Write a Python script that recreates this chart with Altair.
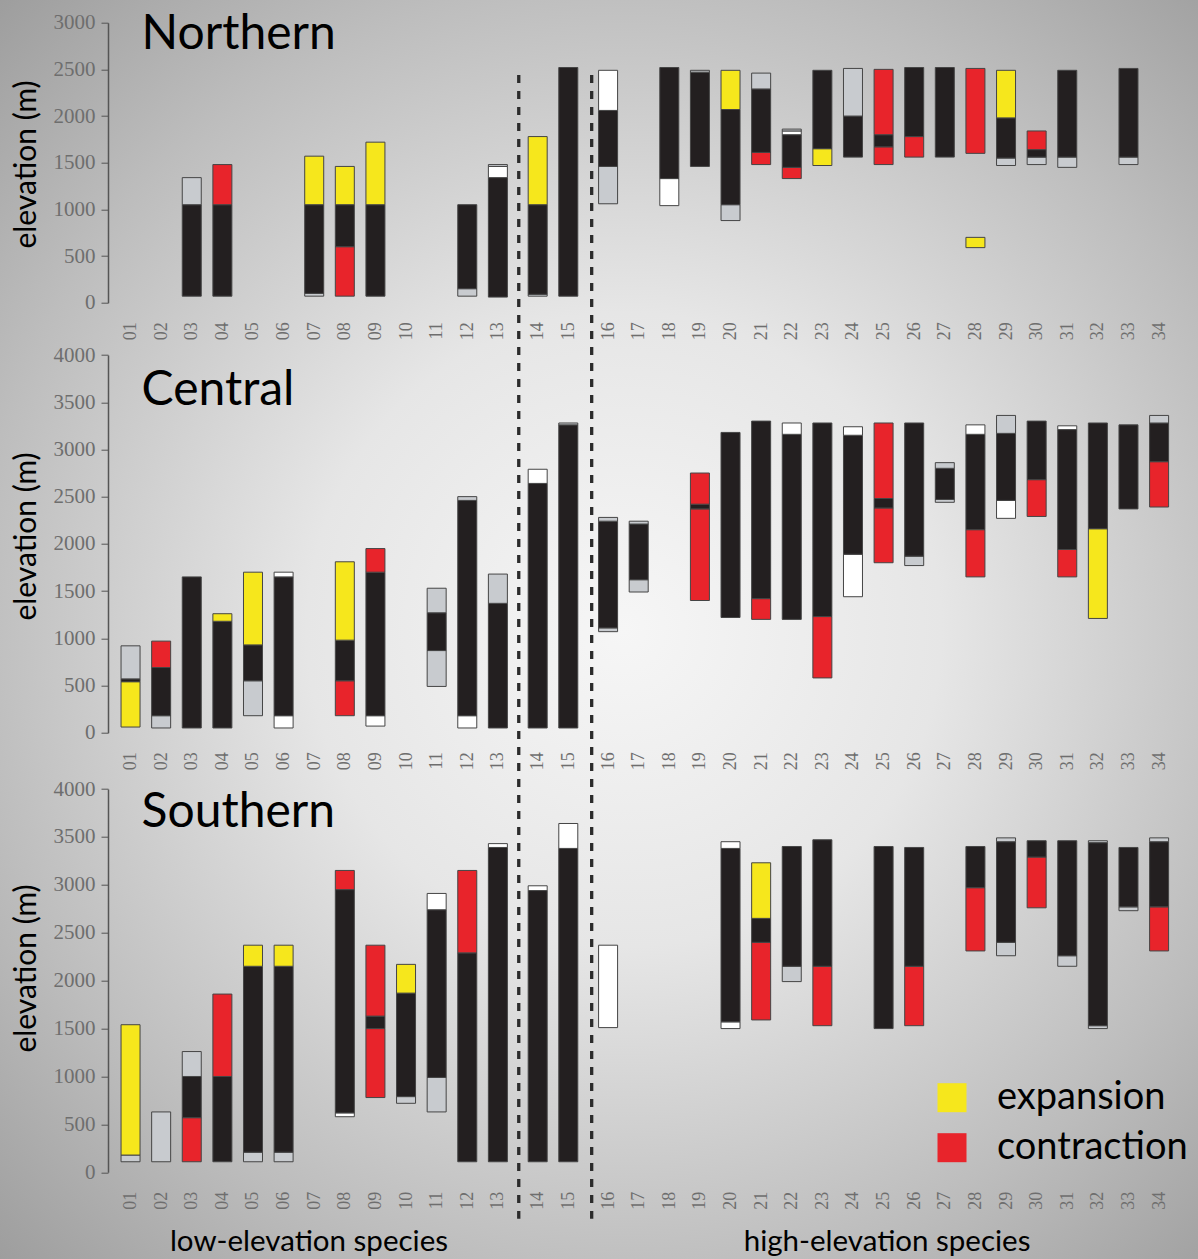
import altair as alt
import pandas as pd

# ---------------- data ----------------
SPECIES_NUMBERS = list(range(1, 35))
STATUS_CODES = {"B": "present", "G": "unsampled", "W": "unoccupied",
                "Y": "expansion", "R": "contraction"}
STATUS_ORDER = ["present", "unsampled", "unoccupied", "expansion", "contraction"]
STATUS_COLORS = ["#231f20", "#c8cbcf", "#ffffff", "#f6e71c", "#e8242b"]

# (species, low elevation, high elevation, status code)
NORTHERN = [
    (3, 70, 1050, "B"), (3, 1050, 1340, "G"),
    (4, 70, 1050, "B"), (4, 1050, 1480, "R"),
    (7, 70, 100, "G"), (7, 100, 1050, "B"), (7, 1050, 1570, "Y"),
    (8, 70, 600, "R"), (8, 600, 1050, "B"), (8, 1050, 1460, "Y"),
    (9, 70, 1050, "B"), (9, 1050, 1720, "Y"),
    (12, 70, 150, "G"), (12, 150, 1050, "B"),
    (13, 60, 1340, "B"), (13, 1340, 1460, "W"), (13, 1460, 1480, "G"),
    (14, 70, 90, "G"), (14, 90, 1050, "B"), (14, 1050, 1780, "Y"),
    (15, 70, 2520, "B"),
    (16, 1060, 1460, "G"), (16, 1460, 2060, "B"), (16, 2060, 2490, "W"),
    (18, 1040, 1330, "W"), (18, 1330, 2520, "B"),
    (19, 1460, 2470, "B"), (19, 2470, 2490, "G"),
    (20, 880, 1050, "G"), (20, 1050, 2070, "B"), (20, 2070, 2490, "Y"),
    (21, 1480, 1610, "R"), (21, 1610, 2290, "B"), (21, 2290, 2460, "G"),
    (22, 1330, 1450, "R"), (22, 1450, 1800, "B"), (22, 1800, 1840, "W"), (22, 1840, 1860, "G"),
    (23, 1470, 1650, "Y"), (23, 1650, 2490, "B"),
    (24, 1560, 2000, "B"), (24, 2000, 2510, "G"),
    (25, 1480, 1670, "R"), (25, 1670, 1800, "B"), (25, 1800, 2500, "R"),
    (26, 1560, 1780, "R"), (26, 1780, 2520, "B"),
    (27, 1560, 2520, "B"),
    (28, 590, 700, "Y"), (28, 1600, 2510, "R"),
    (29, 1470, 1550, "G"), (29, 1550, 1980, "B"), (29, 1980, 2490, "Y"),
    (30, 1480, 1560, "G"), (30, 1560, 1640, "B"), (30, 1640, 1840, "R"),
    (31, 1450, 1560, "G"), (31, 1560, 2490, "B"),
    (33, 1480, 1560, "G"), (33, 1560, 2510, "B"),
]

CENTRAL = [
    (1, 60, 540, "Y"), (1, 540, 570, "B"), (1, 570, 920, "G"),
    (2, 50, 180, "G"), (2, 180, 690, "B"), (2, 690, 970, "R"),
    (3, 50, 1650, "B"),
    (4, 50, 1180, "B"), (4, 1180, 1260, "Y"),
    (5, 180, 550, "G"), (5, 550, 930, "B"), (5, 930, 1700, "Y"),
    (6, 50, 180, "W"), (6, 180, 1650, "B"), (6, 1650, 1700, "W"),
    (8, 180, 550, "R"), (8, 550, 980, "B"), (8, 980, 1810, "Y"),
    (9, 70, 180, "W"), (9, 180, 1700, "B"), (9, 1700, 1950, "R"),
    (11, 490, 870, "G"), (11, 870, 1270, "B"), (11, 1270, 1530, "G"),
    (12, 50, 180, "W"), (12, 180, 2460, "B"), (12, 2460, 2500, "G"),
    (13, 50, 1370, "B"), (13, 1370, 1680, "G"),
    (14, 50, 2640, "B"), (14, 2640, 2790, "W"),
    (15, 50, 3260, "B"), (15, 3260, 3280, "G"),
    (16, 1070, 1110, "G"), (16, 1110, 2240, "B"), (16, 2240, 2280, "G"),
    (17, 1490, 1620, "G"), (17, 1620, 2210, "B"), (17, 2210, 2240, "G"),
    (19, 1400, 2370, "R"), (19, 2370, 2420, "B"), (19, 2420, 2750, "R"),
    (20, 1220, 3180, "B"),
    (21, 1200, 1420, "R"), (21, 1420, 3300, "B"),
    (22, 1200, 3160, "B"), (22, 3160, 3280, "W"),
    (23, 580, 1230, "R"), (23, 1230, 3280, "B"),
    (24, 1440, 1890, "W"), (24, 1890, 3150, "B"), (24, 3150, 3240, "W"),
    (25, 1800, 2380, "R"), (25, 2380, 2480, "B"), (25, 2480, 3280, "R"),
    (26, 1770, 1870, "G"), (26, 1870, 3280, "B"),
    (27, 2440, 2470, "G"), (27, 2470, 2800, "B"), (27, 2800, 2860, "G"),
    (28, 1650, 2150, "R"), (28, 2150, 3160, "B"), (28, 3160, 3260, "W"),
    (29, 2270, 2460, "W"), (29, 2460, 3170, "B"), (29, 3170, 3360, "G"),
    (30, 2290, 2680, "R"), (30, 2680, 3300, "B"),
    (31, 1650, 1940, "R"), (31, 1940, 3210, "B"), (31, 3210, 3250, "W"),
    (32, 1210, 2160, "Y"), (32, 2160, 3280, "B"),
    (33, 2370, 3260, "B"),
    (34, 2390, 2870, "R"), (34, 2870, 3280, "B"), (34, 3280, 3360, "G"),
]

SOUTHERN = [
    (1, 110, 180, "G"), (1, 180, 1540, "Y"),
    (2, 110, 630, "G"),
    (3, 110, 570, "R"), (3, 570, 1000, "B"), (3, 1000, 1260, "G"),
    (4, 110, 1000, "B"), (4, 1000, 1860, "R"),
    (5, 110, 210, "G"), (5, 210, 2150, "B"), (5, 2150, 2370, "Y"),
    (6, 110, 210, "G"), (6, 210, 2150, "B"), (6, 2150, 2370, "Y"),
    (8, 580, 620, "W"), (8, 620, 2950, "B"), (8, 2950, 3150, "R"),
    (9, 780, 1500, "R"), (9, 1500, 1630, "B"), (9, 1630, 2370, "R"),
    (10, 720, 790, "G"), (10, 790, 1870, "B"), (10, 1870, 2170, "Y"),
    (11, 630, 990, "G"), (11, 990, 2740, "B"), (11, 2740, 2910, "W"),
    (12, 110, 2290, "B"), (12, 2290, 3150, "R"),
    (13, 110, 3390, "B"), (13, 3390, 3430, "W"),
    (14, 110, 2940, "B"), (14, 2940, 2990, "W"),
    (15, 110, 3380, "B"), (15, 3380, 3640, "W"),
    (16, 1510, 2370, "W"),
    (20, 1500, 1570, "W"), (20, 1570, 3380, "B"), (20, 3380, 3450, "W"),
    (21, 1590, 2400, "R"), (21, 2400, 2650, "B"), (21, 2650, 3230, "Y"),
    (22, 1990, 2150, "G"), (22, 2150, 3400, "B"),
    (23, 1530, 2150, "R"), (23, 2150, 3470, "B"),
    (25, 1500, 3400, "B"),
    (26, 1530, 2150, "R"), (26, 2150, 3390, "B"),
    (28, 2310, 2970, "R"), (28, 2970, 3400, "B"),
    (29, 2260, 2400, "G"), (29, 2400, 3450, "B"), (29, 3450, 3490, "G"),
    (30, 2760, 3290, "R"), (30, 3290, 3460, "B"),
    (31, 2150, 2260, "G"), (31, 2260, 3460, "B"),
    (32, 1500, 1530, "G"), (32, 1530, 3440, "B"), (32, 3440, 3460, "G"),
    (33, 2730, 2770, "G"), (33, 2770, 3390, "B"),
    (34, 2310, 2770, "R"), (34, 2770, 3450, "B"), (34, 3450, 3490, "G"),
]

REGION_NAMES = ["Northern", "Central", "Southern"]
GROUP_TITLES = ["low-elevation species", "high-elevation species"]
Y_TICKS_NORTH = [0, 500, 1000, 1500, 2000, 2500, 3000]
Y_TICKS_OTHER = [0, 500, 1000, 1500, 2000, 2500, 3000, 3500, 4000]

# ---------------- layout / style ----------------
GAP = 0.3          # extra gap (in species steps) at each dashed divider
W, H = 1071.4, 1149.6
PAD = {"left": 108, "top": 22.7, "right": 18.6, "bottom": 86.7}
SERIF = "Liberation Serif"
SANS = "Lato"
TICK_GREY = "#6e6e6e"


def pos(n):
    return n + GAP * (n >= 14) + GAP * (n >= 16)


SPECIES_POS = [pos(n) for n in SPECIES_NUMBERS]
XSCALE = alt.Scale(domain=[0.427, 35.1], nice=False, zero=False)

num = f"round(datum.value - (datum.value > 13.5 ? {GAP} : 0) - (datum.value > 15.8 ? {GAP} : 0))"
LABEL_EXPR = f"({num} < 10 ? '0' : '') + {num}"


def frame(rows):
    return pd.DataFrame({
        "species": [f"{r[0]:02d}" for r in rows],
        "pos": [pos(r[0]) for r in rows],
        "lo": [r[1] for r in rows],
        "hi": [r[2] for r in rows],
        "status": [STATUS_CODES[r[3]] for r in rows],
    })


LEGEND = alt.Legend(
    values=["expansion", "contraction"], orient="none", legendX=825, legendY=1056,
    title=None, symbolType="square", symbolSize=841, symbolStrokeWidth=0,
    symbolOpacity=1, labelFont=SANS, labelFontSize=38, labelColor="black",
    labelOffset=26, labelLimit=0, rowPadding=12, padding=0, zindex=2,
)
COLOR = alt.Color("status:N", scale=alt.Scale(domain=STATUS_ORDER, range=STATUS_COLORS),
                  legend=LEGEND)

PANELS = [
    # name, rows, y domain, y range (px from plot top), x-axis offset, ticks, title y, name y
    ("Northern", NORTHERN, [0, 3000], [280, 0], 280 - H, Y_TICKS_NORTH, 141.3, 2718),
    ("Central", CENTRAL, [0, 4000], [710, 332.3], 710 - H, Y_TICKS_OTHER, 513.3, 3470),
    ("Southern", SOUTHERN, [0, 4000], [1149.6, 766.3], 0, Y_TICKS_OTHER, 945.3, 3607),
]

layers = []

# background radial shading
bg = alt.Chart(pd.DataFrame({"k": [0]})).mark_rect(
    color=alt.RadialGradient(
        gradient="radial",
        stops=[alt.GradientStop(color="#f6f6f6", offset=0),
               alt.GradientStop(color="#e6e6e6", offset=0.35),
               alt.GradientStop(color="#bdbdbd", offset=0.72),
               alt.GradientStop(color="#9b9b9b", offset=1)],
        x1=0.52, y1=0.5, r1=0, x2=0.52, y2=0.5, r2=0.72,
    )
).encode(x=alt.value(-PAD["left"]), x2=alt.value(W + PAD["right"]),
         y=alt.value(-PAD["top"]), y2=alt.value(H + PAD["bottom"]))
layers.append(bg)

yscales = {}
for name, rows, ydom, yrange, xoff, yticks, title_y, name_y in PANELS:
    yscale = alt.Scale(domain=ydom, range=yrange, nice=False, zero=False)
    yscales[name] = yscale
    bars = alt.Chart(frame(rows)).mark_bar(size=19, stroke="#454545", strokeWidth=1).encode(
        x=alt.X("pos:Q", scale=XSCALE, axis=alt.Axis(
            orient="bottom", offset=xoff, values=SPECIES_POS, labelExpr=LABEL_EXPR,
            labelAngle=270, labelAlign="right", labelBaseline="middle", labelPadding=19,
            ticks=False, domain=False, grid=False, title=None, labelFont=SERIF,
            labelFontSize=18, labelColor=TICK_GREY, labelOverlap=False, labelFlush=False,
            zindex=1)),
        y=alt.Y("lo:Q", scale=yscale, axis=alt.Axis(
            orient="left", values=yticks, format="d", title="elevation (m)", titleFont=SANS,
            titleFontSize=30, titleFontWeight="normal", titleColor="black",
            titlePadding=12, titleY=title_y, labelFont=SERIF, labelFontSize=21,
            labelColor=TICK_GREY, labelPadding=6, tickSize=7, tickColor="#555555",
            domainColor="#555555", domainWidth=1.5, grid=False, labelFlush=False,
            zindex=1)),
        y2="hi:Q",
        color=COLOR,
        tooltip=["species:N", "lo:Q", "hi:Q", "status:N"],
    )
    layers.append(bars)
    label = alt.Chart(pd.DataFrame({"x": [1.514], "y": [name_y], "t": [name]})).mark_text(
        font=SANS, fontSize=48, align="left", baseline="alphabetic", color="black"
    ).encode(x=alt.X("x:Q", scale=XSCALE, axis=None),
             y=alt.Y("y:Q", scale=yscale, axis=None), text="t:N")
    layers.append(label)

group_titles = alt.Chart(pd.DataFrame({
    "x": [6.93, 25.64], "y": [-821, -821], "t": GROUP_TITLES})).mark_text(
    font=SANS, fontSize=29.5, align="center", baseline="alphabetic", color="black"
).encode(x=alt.X("x:Q", scale=XSCALE, axis=None),
         y=alt.Y("y:Q", scale=yscales["Southern"], axis=None), text="t:N")
layers.append(group_titles)

dividers = alt.Chart(pd.DataFrame({"x": [13.72, 16.08]})).mark_rule(
    strokeDash=[8, 8], strokeWidth=3.3, color="#2b2b2b"
).encode(x=alt.X("x:Q", scale=XSCALE, axis=None), y=alt.value(52.3), y2=alt.value(1196))
layers.append(dividers)

chart = alt.layer(*layers).resolve_scale(x="independent", y="independent").properties(
    width=W, height=H, autosize=alt.AutoSizeParams(type="none"), padding=PAD,
    background="#bdbdbd",
).configure_view(stroke=None)

chart.save("out.html", embed_options={"renderer": "svg", "actions": False})
